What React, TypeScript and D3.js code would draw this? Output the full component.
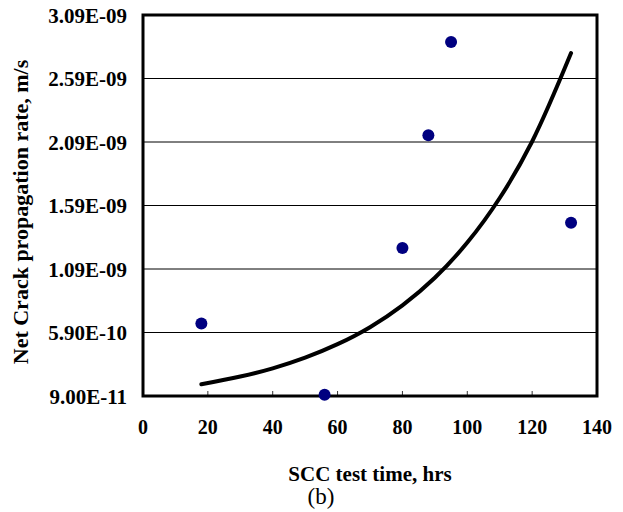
import React, { useEffect, useRef } from 'react';
import * as d3 from 'd3';

// measured points (SCC test time in hrs, net crack propagation rate in m/s)
const testHours = [18, 56, 80, 88, 95, 132];
const crackRates = [6.6e-10, 1.0e-10, 1.255e-9, 2.143e-9, 2.877e-9, 1.455e-9];

// exponential trendline
const trendHours = [18, 30, 40, 50, 60, 70, 80, 90, 100, 110, 120, 132];
const trendRates = [1.82e-10, 2.43e-10, 3.08e-10, 3.92e-10, 4.98e-10, 6.32e-10, 8.04e-10, 1.021e-9, 1.298e-9, 1.649e-9, 2.094e-9, 2.79e-9];

const xTicks = [0, 20, 40, 60, 80, 100, 120, 140];
const yTicks = [9.0e-11, 5.9e-10, 1.09e-9, 1.59e-9, 2.09e-9, 2.59e-9, 3.09e-9];
const yTickLabels = ['9.00E-11', '5.90E-10', '1.09E-09', '1.59E-09', '2.09E-09', '2.59E-09', '3.09E-09'];

const W = 623;
const H = 512;
const FONT = '"Liberation Serif", "Times New Roman", serif';

const App: React.FC = () => {
  const svgRef = useRef<SVGSVGElement>(null);

  useEffect(() => {
    if (!svgRef.current) return;
    const svg = d3.select(svgRef.current);
    svg.selectAll('*').remove();

    const left = 143, right = 597, top = 15, bottom = 396;

    const x = d3.scaleLinear().domain([0, 140]).range([left, right]);
    const y = d3.scaleLinear().domain([9.0e-11, 3.09e-9]).range([bottom, top]);

    // horizontal gridlines
    svg.append('g')
      .selectAll('line')
      .data(yTicks.slice(1, -1))
      .join('line')
      .attr('x1', left)
      .attr('x2', right)
      .attr('y1', d => y(d))
      .attr('y2', d => y(d))
      .attr('stroke', '#000')
      .attr('stroke-width', 1);

    // x ticks (inside, pointing up)
    svg.append('g')
      .selectAll('line')
      .data(xTicks.slice(1, -1))
      .join('line')
      .attr('x1', d => x(d))
      .attr('x2', d => x(d))
      .attr('y1', bottom)
      .attr('y2', bottom - 5)
      .attr('stroke', '#333')
      .attr('stroke-width', 1);

    // trendline
    const trend = trendHours.map((h, i) => [h, trendRates[i]] as [number, number]);
    const line = d3.line<[number, number]>()
      .x(d => x(d[0]))
      .y(d => y(d[1]))
      .curve(d3.curveCatmullRom);

    svg.append('path')
      .datum(trend)
      .attr('d', line)
      .attr('fill', 'none')
      .attr('stroke', '#000')
      .attr('stroke-width', 4)
      .attr('stroke-linecap', 'round');

    // plot frame
    svg.append('rect')
      .attr('x', left)
      .attr('y', top)
      .attr('width', right - left)
      .attr('height', bottom - top)
      .attr('fill', 'none')
      .attr('stroke', '#000')
      .attr('stroke-width', 3);

    // data points
    svg.append('g')
      .selectAll('circle')
      .data(testHours.map((h, i) => ({ h, r: crackRates[i] })))
      .join('circle')
      .attr('cx', d => x(d.h))
      .attr('cy', d => y(d.r))
      .attr('r', 6)
      .attr('fill', '#000080');

    // y tick labels
    svg.append('g')
      .selectAll('text')
      .data(yTicks)
      .join('text')
      .attr('x', 127)
      .attr('y', d => y(d))
      .attr('dy', '0.36em')
      .attr('text-anchor', 'end')
      .attr('font-family', FONT)
      .attr('font-weight', 'bold')
      .attr('font-size', '21px')
      .text((d, i) => yTickLabels[i]);

    // x tick labels
    svg.append('g')
      .selectAll('text')
      .data(xTicks)
      .join('text')
      .attr('x', d => x(d))
      .attr('y', 434)
      .attr('text-anchor', 'middle')
      .attr('font-family', FONT)
      .attr('font-weight', 'bold')
      .attr('font-size', '20px')
      .text(d => d);

    // axis titles
    svg.append('text')
      .attr('x', (left + right) / 2)
      .attr('y', 481)
      .attr('text-anchor', 'middle')
      .attr('font-family', FONT)
      .attr('font-weight', 'bold')
      .attr('font-size', '21px')
      .text('SCC test time, hrs');

    svg.append('text')
      .attr('transform', `translate(28, 212) rotate(-90)`)
      .attr('text-anchor', 'middle')
      .attr('font-family', FONT)
      .attr('font-weight', 'bold')
      .attr('font-size', '22px')
      .text('Net Crack propagation rate, m/s');

    svg.append('text')
      .attr('x', 321)
      .attr('y', 504)
      .attr('text-anchor', 'middle')
      .attr('font-family', FONT)
      .attr('font-size', '23px')
      .text('(b)');
  }, []);

  return (
    <svg
      ref={svgRef}
      width={W}
      height={H}
      style={{ position: 'absolute', left: 0, top: 0, background: '#fff' }}
    />
  );
};

export default App;
